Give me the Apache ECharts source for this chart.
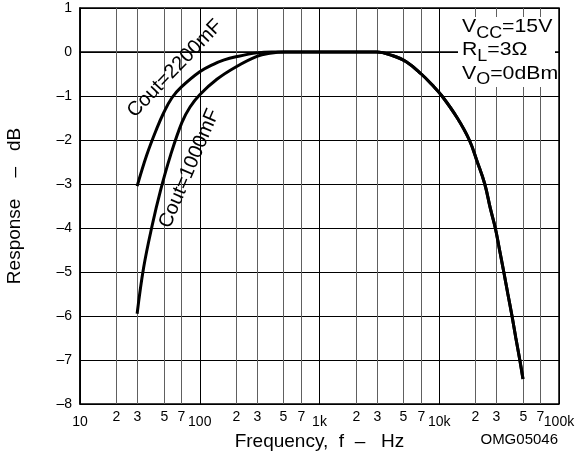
<!DOCTYPE html>
<html>
<head>
<meta charset="utf-8">
<script src="https://cdn.jsdelivr.net/npm/echarts@6/dist/echarts.min.js"></script>
<style>
  html, body { margin: 0; padding: 0; background: #fff; }
  #chart { width: 578px; height: 455px; }
</style>
</head>
<body>
<div id="chart"></div>
<script>
const FONT = '"Liberation Sans", Arial, Helvetica, sans-serif';

// Low-frequency roll-off, Cout = 2200 uF (Hz, dB)
const lowFreq2200 = [30, 36.2, 43.9, 50, 58.6, 70, 100, 130, 160, 200, 300, 400];
const lowResp2200 = [-3.05, -2.33, -1.73, -1.38, -1.04, -0.8, -0.45, -0.28, -0.18, -0.11, -0.02, 0];

// Low-frequency roll-off, Cout = 1000 uF (Hz, dB)
const lowFreq1000 = [30, 34, 40, 47, 57, 71, 83, 100, 139, 200, 300, 385, 514];
const lowResp1000 = [-5.95, -4.9, -3.95, -3.15, -2.35, -1.6, -1.25, -0.97, -0.62, -0.34, -0.1, -0.03, 0];

// Mid band and high-frequency roll-off, shared by both curves (Hz, dB)
const highFreq = [1000, 2000, 3000, 4050, 5300, 7080, 8750, 10540, 14150, 17830, 20790, 23990, 26680, 29380, 31890, 34590, 37410, 40520, 43600, 47080, 50040];
const highResp = [0, 0, 0, -0.08, -0.22, -0.5, -0.75, -1.0, -1.5, -2.0, -2.5, -3.0, -3.55, -4.0, -4.5, -5.0, -5.5, -6.0, -6.5, -7.0, -7.43];

// Axis ranges and tick labels
const X_MIN = 10, X_MAX = 100000;
const Y_MIN = -8, Y_MAX = 1;
const decadeLabels = { 10: '10', 100: '100', 1000: '1k', 10000: '10k', 100000: '100k' };
const minorTicks = [20, 30, 50, 70, 200, 300, 500, 700, 2000, 3000, 5000, 7000, 20000, 30000, 50000, 70000];
const minorLabels = ['2', '3', '5', '7', '2', '3', '5', '7', '2', '3', '5', '7', '2', '3', '5', '7'];

const curveNames = ['Cout=2200mF', 'Cout=1000mF'];

// Test conditions: [main, subscript, rest]
const conditions = [
  ['V', 'CC', '=15V'],
  ['R', 'L', '=3\u03A9'],
  ['V', 'O', '=0dBm']
];

function pairs(fs, vs) { return fs.map((f, i) => [f, vs[i]]); }
const data2200 = pairs(lowFreq2200.concat(highFreq), lowResp2200.concat(highResp));
const data1000 = pairs(lowFreq1000.concat(highFreq), lowResp1000.concat(highResp));

const chart = echarts.init(document.getElementById('chart'), null, { renderer: 'canvas' });

const option = {
  backgroundColor: '#fff',
  animation: false,
  textStyle: { fontFamily: FONT },
  grid: {
    left: 80, right: 19, top: 8, bottom: 51,
    outerBoundsMode: 'none',
    show: true, borderColor: '#000', borderWidth: 1.5, backgroundColor: 'transparent'
  },
  xAxis: {
    type: 'log', logBase: 10, min: X_MIN, max: X_MAX,
    name: 'Frequency,  f  \u2013   Hz',
    nameLocation: 'middle', nameGap: 28, nameMoveOverlap: false,
    nameTextStyle: { fontFamily: FONT, fontSize: 19, color: '#000' },
    axisLine: { show: true, lineStyle: { color: '#000', width: 1.5 } },
    axisTick: { show: false },
    axisLabel: {
      fontFamily: FONT, fontSize: 14, color: '#000', margin: 11,
      formatter: v => decadeLabels[Math.round(v)] || ''
    },
    splitLine: { show: true, lineStyle: { color: '#000', width: 1 } },
    minorTick: { show: false }, minorSplitLine: { show: false }
  },
  yAxis: {
    type: 'value', min: Y_MIN, max: Y_MAX, interval: 1,
    name: 'Response    \u2013   dB',
    nameLocation: 'middle', nameGap: 56, nameRotate: 90, nameMoveOverlap: false,
    nameTextStyle: { fontFamily: FONT, fontSize: 19, color: '#000' },
    axisLine: { show: true, lineStyle: { color: '#000', width: 1.5 } },
    axisTick: { show: false },
    axisLabel: {
      fontFamily: FONT, fontSize: 14, color: '#000', margin: 8,
      formatter: v => (v < 0 ? '\u2013' + (-v) : String(v))
    },
    splitLine: { show: true, lineStyle: { color: '#000', width: 1 } }
  },
  series: [
    {
      // 2-3-5-7 grid lines inside each decade, with their labels under the axis
      type: 'custom',
      silent: true,
      z: 1,
      data: minorTicks.map(v => [v]),
      renderItem(params, api) {
        const f = api.value(0);
        const pTop = api.coord([f, Y_MAX]);
        const pBot = api.coord([f, Y_MIN]);
        const x = Math.round(pTop[0]) + 0.5;
        return {
          type: 'group',
          children: [
            { type: 'line', shape: { x1: x, y1: pTop[1], x2: x, y2: pBot[1] },
              style: { stroke: '#606060', lineWidth: 1 } },
            { type: 'text', x: x, y: pBot[1] + 6,
              style: { text: minorLabels[params.dataIndex], fontFamily: FONT, fontSize: 14,
                       fill: '#000', align: 'center', verticalAlign: 'top' } }
          ]
        };
      }
    },
    {
      name: curveNames[0], type: 'line', data: data2200, smooth: 0.4,
      showSymbol: false, z: 5,
      lineStyle: { color: '#000', width: 3 }
    },
    {
      name: curveNames[1], type: 'line', data: data1000, smooth: 0.4,
      showSymbol: false, z: 5,
      lineStyle: { color: '#000', width: 3 }
    }
  ]
};
chart.setOption(option);

// Curve labels anchored at data coordinates
const p2200 = chart.convertToPixel({ gridIndex: 0 }, [62, -0.38]);
const p1000 = chart.convertToPixel({ gridIndex: 0 }, [82, -2.65]);
const corner = chart.convertToPixel({ gridIndex: 0 }, [X_MAX, Y_MAX]); // top-right of plot

// Conditions block: main text 19px, subscripts 16px, slightly widened
const MAIN = 19, SUB = 16, SX = 1.12;
const ctx = document.createElement('canvas').getContext('2d');
function textWidth(t, size) { ctx.font = size + 'px ' + FONT; return ctx.measureText(t).width; }
const condChildren = [
  { type: 'rect', z: 20, shape: { x: -4 / SX, y: 9, width: 97 / SX, height: 70 }, style: { fill: '#fff' } }
];
conditions.forEach((c, i) => {
  const base = 25.5 + 23.3 * i;          // baseline of the main text
  const w0 = textWidth(c[0], MAIN);
  const w1 = textWidth(c[1], SUB);
  condChildren.push(
    { type: 'text', z: 21, x: 0, y: base - 0.35 * MAIN,
      style: { text: c[0], fontFamily: FONT, fontSize: MAIN, fill: '#000', verticalAlign: 'middle' } },
    { type: 'text', z: 21, x: w0, y: base + 5.5 - 0.35 * SUB,
      style: { text: c[1], fontFamily: FONT, fontSize: SUB, fill: '#000', verticalAlign: 'middle' } },
    { type: 'text', z: 21, x: w0 + w1, y: base - 0.35 * MAIN,
      style: { text: c[2], fontFamily: FONT, fontSize: MAIN, fill: '#000', verticalAlign: 'middle' } }
  );
});

chart.setOption({
  graphic: [
    {
      type: 'text', x: p2200[0], y: p2200[1], rotation: 46 * Math.PI / 180, z: 20,
      style: { text: curveNames[0], fontFamily: FONT, fontSize: 20, fill: '#000',
               align: 'center', verticalAlign: 'middle' }
    },
    {
      type: 'text', x: p1000[0], y: p1000[1], rotation: 67 * Math.PI / 180, z: 20,
      style: { text: curveNames[1], fontFamily: FONT, fontSize: 20, fill: '#000',
               align: 'center', verticalAlign: 'middle' }
    },
    {
      type: 'group', x: corner[0] - 97, y: corner[1], scaleX: SX, z: 20,
      children: condChildren
    },
    {
      type: 'text', right: 20, bottom: 8, z: 20,
      style: { text: 'OMG05046', fontFamily: FONT, fontSize: 15, fill: '#000' }
    }
  ]
});
</script>
</body>
</html>
